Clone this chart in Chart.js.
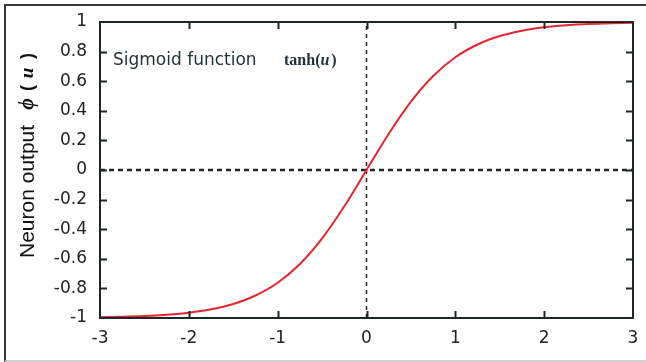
<!DOCTYPE html>
<html>
<head>
<meta charset="utf-8">
<script src="https://cdn.jsdelivr.net/npm/chart.js@4/dist/chart.umd.min.js"></script>
<style>
html, body { margin: 0; padding: 0; background: #fff; overflow: hidden; }
#wrap { position: relative; width: 646px; height: 362px; }
#frame { position: absolute; left: 4px; top: 4px; width: 660px; height: 354px;
         border-left: 2px solid #3a3a3a; border-top: 2px solid #3a3a3a; border-bottom: 2px solid #cfcfcf; }
canvas { position: absolute; left: 0; top: 0; }
</style>
</head>
<body>
<div id="wrap">
  <div id="frame"></div>
  <canvas id="tanhChart" width="646" height="362"></canvas>
</div>
<script>
// =============================
// DATA
// =============================
const uValues    = [-3, -2.75, -2.5, -2.25, -2, -1.75, -1.5, -1.25, -1, -0.75, -0.5, -0.25, 0,
                    0.25, 0.5, 0.75, 1, 1.25, 1.5, 1.75, 2, 2.25, 2.5, 2.75, 3];
const tanhValues = [-0.995, -0.992, -0.987, -0.978, -0.964, -0.941, -0.905, -0.848, -0.762, -0.635, -0.462, -0.245, 0,
                    0.245, 0.462, 0.635, 0.762, 0.848, 0.905, 0.941, 0.964, 0.978, 0.987, 0.992, 0.995];
const xTicks = [-3, -2, -1, 0, 1, 2, 3];
const yTicks = [-1, -0.8, -0.6, -0.4, -0.2, 0, 0.2, 0.4, 0.6, 0.8, 1];
const hLineX = [-3, 3], hLineY = [0, 0];
const vLineX = [0, 0],  vLineY = [-1, 1];

const ink = '#1e2626';
const tickFont = { family: 'DejaVu Sans', size: 17 };

const pts = (xs, ys) => xs.map((x, i) => ({ x: x, y: ys[i] }));

// =============================
// FRAME, INNER TICKS, TEXT
// =============================
const framePlugin = {
    id: 'frame',
    afterDatasetsDraw(chart) {
        const c = chart.ctx, a = chart.chartArea;
        const xs = chart.scales.x, ys = chart.scales.y;
        c.save();
        c.strokeStyle = ink;
        c.lineWidth = 2;
        c.strokeRect(a.left, a.top, a.right - a.left, a.bottom - a.top);
        c.beginPath();
        xTicks.slice(1, -1).forEach(v => {
            let px = Math.round(xs.getPixelForValue(v)) + 0.5;
            c.moveTo(px, a.bottom); c.lineTo(px, a.bottom - 7);
            c.moveTo(px, a.top);    c.lineTo(px, a.top + 7);
        });
        yTicks.slice(1, -1).forEach(v => {
            let py = Math.round(ys.getPixelForValue(v)) + 0.5;
            c.moveTo(a.left, py);  c.lineTo(a.left + 7, py);
            c.moveTo(a.right, py); c.lineTo(a.right - 7, py);
        });
        c.stroke();

        // annotation
        c.textBaseline = 'middle';
        c.fillStyle = '#24323a';
        c.font = '17px "DejaVu Sans"';
        let tx = a.left + 13, ty = ys.getPixelForValue(0.74);
        c.fillText('Sigmoid function', tx, ty);
        c.font = 'bold 16px "Liberation Serif"';
        let sx = a.left + 184;
        c.fillText('tanh(', sx, ty);
        sx += c.measureText('tanh(').width;
        c.font = 'bold italic 16px "Liberation Serif"';
        c.fillText('u', sx, ty);
        sx += c.measureText('u').width + 2;
        c.font = 'bold 16px "Liberation Serif"';
        c.fillText(')', sx, ty);
        c.restore();

        // y axis title, read bottom to top
        c.save();
        c.translate(28, 0);
        c.rotate(-Math.PI / 2);
        c.fillStyle = '#111';
        c.textBaseline = 'middle';
        c.textAlign = 'left';
        c.font = '21px "Liberation Sans"';
        c.fillText('Neuron output', -258, 0);
        c.textAlign = 'center';
        c.font = 'bold italic 20px "Liberation Serif"';
        c.fillText('ϕ', -104, 0);
        c.font = 'bold 18px "Liberation Sans"';
        c.fillText('(', -88, 0);
        c.font = 'bold italic 19px "Liberation Serif"';
        c.fillText('u', -73, 0);
        c.font = 'bold 18px "Liberation Sans"';
        c.fillText(')', -56, 0);
        c.restore();
    }
};

// =============================
// CHART
// =============================
new Chart(document.getElementById('tanhChart'), {
    type: 'line',
    data: {
        datasets: [
            { data: pts(uValues, tanhValues), borderColor: '#e6252f', borderWidth: 2,
              pointRadius: 0, tension: 0.3, order: 0 },
            { data: pts(hLineX, hLineY), borderColor: ink, borderWidth: 2.5,
              borderDash: [5, 4], pointRadius: 0, order: 1 },
            { data: pts(vLineX, vLineY), borderColor: ink, borderWidth: 1.5,
              borderDash: [4, 4], pointRadius: 0, order: 2 }
        ]
    },
    options: {
        responsive: false,
        animation: false,
        layout: { padding: { left: 0, right: 13, top: 22, bottom: 0 } },
        plugins: { legend: { display: false }, tooltip: { enabled: false } },
        scales: {
            x: {
                type: 'linear', min: -3, max: 3,
                grid: { display: false, drawTicks: false },
                border: { display: false },
                afterBuildTicks: s => { s.ticks = xTicks.map(v => ({ value: v })); },
                afterFit: s => { s.height = 44; s.paddingLeft = 0; s.paddingRight = 0; },
                ticks: { padding: 10, font: tickFont, color: '#222', maxRotation: 0,
                         callback: v => String(v) }
            },
            y: {
                type: 'linear', min: -1, max: 1,
                grid: { display: false, drawTicks: false },
                border: { display: false },
                afterBuildTicks: s => { s.ticks = yTicks.map(v => ({ value: v })); },
                afterFit: s => { s.width = 100; s.paddingTop = 0; s.paddingBottom = 0; },
                ticks: { padding: 13, font: tickFont, color: '#222',
                         callback: v => String(Math.round(v * 10) / 10) }
            }
        }
    },
    plugins: [framePlugin]
});
</script>
</body>
</html>
